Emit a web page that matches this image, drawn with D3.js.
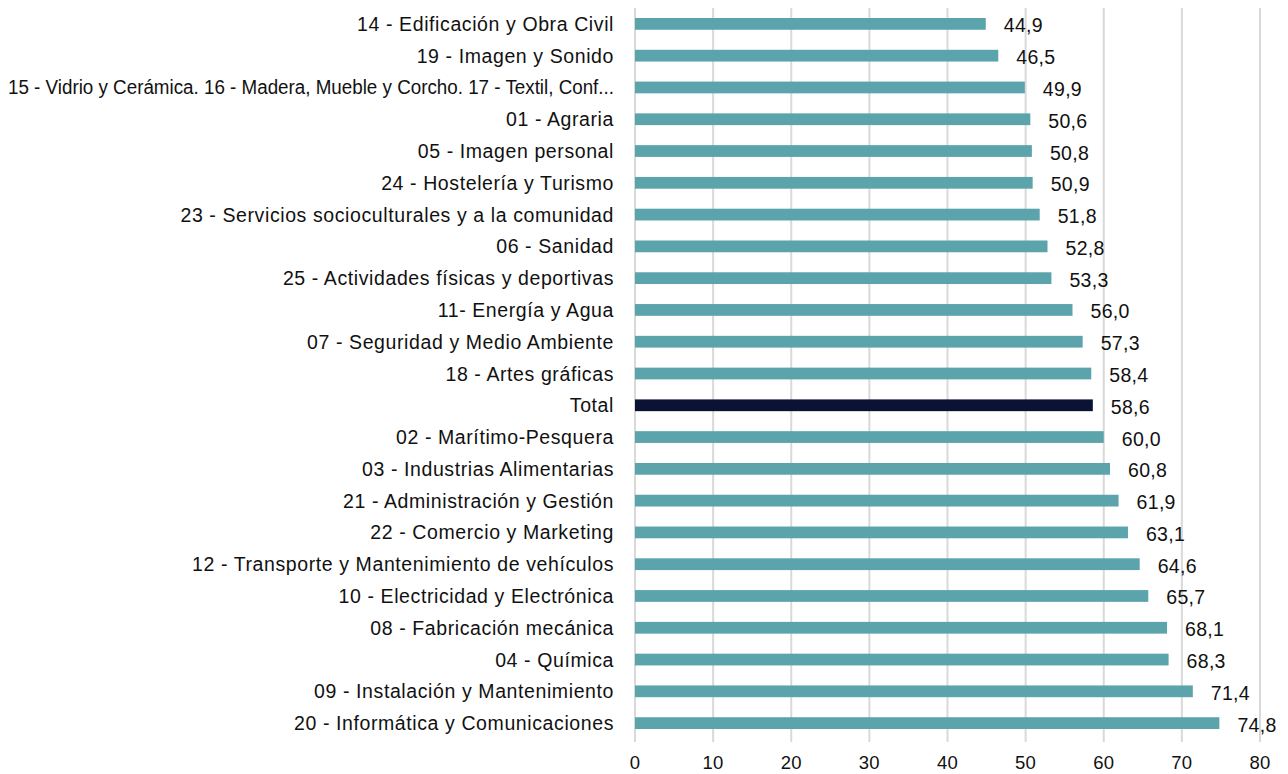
<!DOCTYPE html>
<html>
<head>
<meta charset="utf-8">
<script src="https://cdn.jsdelivr.net/npm/d3@7"></script>
<style>
  html, body { margin: 0; padding: 0; background: #fff; }
  svg { display: block; font-family: "Liberation Sans", Arial, Helvetica, sans-serif; }
</style>
</head>
<body>
<div id="chart"></div>
<script>
const categories = [
  '14 - Edificación y Obra Civil',
  '19 - Imagen y Sonido',
  '15 - Vidrio y Cerámica. 16 - Madera, Mueble y Corcho. 17 - Textil, Conf...',
  '01 - Agraria',
  '05 - Imagen personal',
  '24 - Hostelería y Turismo',
  '23 - Servicios socioculturales y a la comunidad',
  '06 - Sanidad',
  '25 - Actividades físicas y deportivas',
  '11- Energía y Agua',
  '07 - Seguridad y Medio Ambiente',
  '18 - Artes gráficas',
  'Total',
  '02 - Marítimo-Pesquera',
  '03 - Industrias Alimentarias',
  '21 - Administración y Gestión',
  '22 - Comercio y Marketing',
  '12 - Transporte y Mantenimiento de vehículos',
  '10 - Electricidad y Electrónica',
  '08 - Fabricación mecánica',
  '04 - Química',
  '09 - Instalación y Mantenimiento',
  '20 - Informática y Comunicaciones'
];
const values = [44.9, 46.5, 49.9, 50.6, 50.8, 50.9, 51.8, 52.8, 53.3, 56.0, 57.3, 58.4,
  58.6, 60.0, 60.8, 61.9, 63.1, 64.6, 65.7, 68.1, 68.3, 71.4, 74.8];
const xTicks = [0, 10, 20, 30, 40, 50, 60, 70, 80];

const chartW = 1288, chartH = 774;
const plotLeft = 635, plotRight = 1260, plotTop = 8, plotBottom = 739;

const data = categories.map((c, i) => ({ name: c, value: values[i] }));

const svg = d3.select('#chart').append('svg')
  .attr('width', chartW)
  .attr('height', chartH);

const x = d3.scaleLinear().domain([0, 80]).range([plotLeft, plotRight]);
const y = d3.scaleBand().domain(categories).range([plotTop, plotBottom]);
const barH = y.bandwidth() * 0.37;

// gridlines
svg.append('g')
  .selectAll('line')
  .data(xTicks)
  .enter()
  .append('line')
  .attr('x1', (d) => x(d))
  .attr('x2', (d) => x(d))
  .attr('y1', plotTop)
  .attr('y2', plotBottom + 3)
  .attr('stroke', '#d9d9d9')
  .attr('stroke-width', 2);

// x tick labels
svg.append('g')
  .selectAll('text')
  .data(xTicks)
  .enter()
  .append('text')
  .attr('x', (d) => x(d))
  .attr('y', 769)
  .attr('text-anchor', 'middle')
  .attr('font-size', '18.5px')
  .attr('letter-spacing', '0.3px')
  .attr('fill', '#111')
  .text((d) => d);

// bars
svg.append('g')
  .selectAll('rect')
  .data(data)
  .enter()
  .append('rect')
  .attr('x', x(0))
  .attr('y', (d) => y(d.name) + y.bandwidth() / 2 - barH / 2)
  .attr('width', (d) => x(d.value) - x(0))
  .attr('height', barH)
  .attr('fill', (d) => (d.name === 'Total' ? '#0b1233' : '#5ba4ac'));

// value labels
svg.append('g')
  .selectAll('text')
  .data(data)
  .enter()
  .append('text')
  .attr('x', (d) => x(d.value) + 18)
  .attr('y', (d) => y(d.name) + y.bandwidth() / 2 + 8.5)
  .attr('font-size', '19.5px')
  .attr('letter-spacing', '0.3px')
  .attr('fill', '#111')
  .text((d) => d.value.toFixed(1).replace('.', ','));

// category labels
const labels = svg.append('g')
  .selectAll('text')
  .data(data)
  .enter()
  .append('text')
  .attr('x', 614)
  .attr('y', (d) => y(d.name) + y.bandwidth() / 2 + 7)
  .attr('text-anchor', 'end')
  .attr('font-size', '19.5px')
  .attr('letter-spacing', '0.6px')
  .attr('fill', '#111')
  .text((d) => d.name);

// the long label is squeezed to fit the left margin
labels.each(function () {
  if (this.getComputedTextLength() > 606) {
    d3.select(this).attr('letter-spacing', null).attr('textLength', 606).attr('lengthAdjust', 'spacingAndGlyphs');
  }
});
</script>
</body>
</html>
